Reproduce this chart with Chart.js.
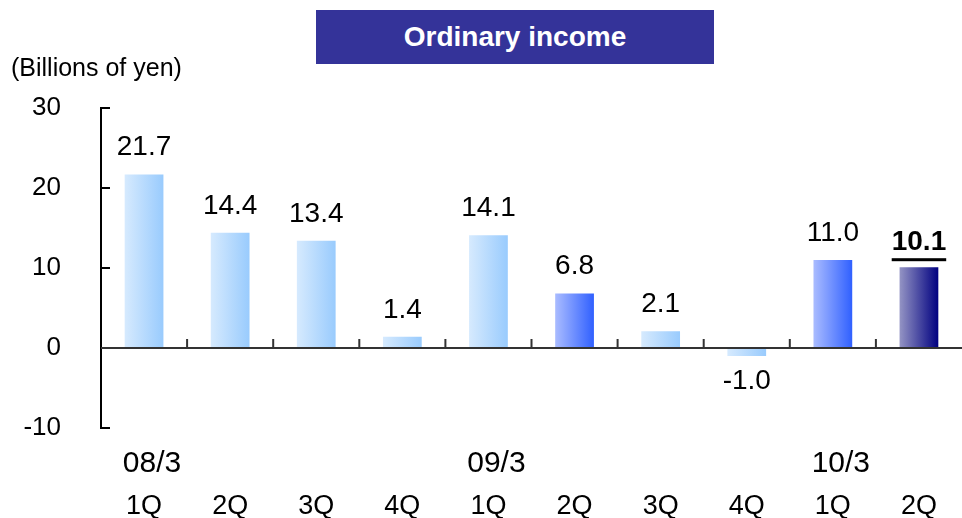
<!DOCTYPE html>
<html>
<head>
<meta charset="utf-8">
<script src="https://cdn.jsdelivr.net/npm/chart.js@4"></script>
<style>
html, body { margin: 0; padding: 0; background: #fff; }
#wrap { position: relative; width: 962px; height: 518px; }
#title { position: absolute; left: 316px; top: 10px; width: 398px; height: 54px; background: #343399; color: #fff;
  font: bold 28px "Liberation Sans", Arial, sans-serif; display: flex; align-items: center; justify-content: center; }
#unit { position: absolute; left: 11px; top: 53px; font: 25px "Liberation Sans", Arial, sans-serif; color: #000; }
canvas { position: absolute; left: 0; top: 0; }
</style>
</head>
<body>
<div id="wrap">
  <canvas id="chart" width="962" height="518"></canvas>
  <div id="title">Ordinary income</div>
  <div id="unit">(Billions of yen)</div>
</div>
<script>
// Data
const years = ["08/3", "", "", "", "09/3", "", "", "", "10/3", ""];
const quarters = ["1Q", "2Q", "3Q", "4Q", "1Q", "2Q", "3Q", "4Q", "1Q", "2Q"];
const values = [21.7, 14.4, 13.4, 1.4, 14.1, 6.8, 2.1, -1.0, 11.0, 10.1];
const valueLabels = ["21.7", "14.4", "13.4", "1.4", "14.1", "6.8", "2.1", "-1.0", "11.0", "10.1"];
const barStyles = ["light", "light", "light", "light", "light", "blue", "light", "light", "blue", "dark"];
const yMin = -10, yMax = 30, yStep = 10;

const FONT = '"Liberation Sans", Arial, sans-serif';

// gradient stops per style (left -> right)
const gradients = {
  light: ["#d6eafe", "#99cbfd"],
  blue: ["#aabcff", "#3060ff"],
  dark: ["#9494c4", "#000080"]
};

function barFill(context) {
  const chart = context.chart;
  const x = chart.scales.x;
  const i = context.dataIndex;
  const stops = gradients[barStyles[i]] || gradients.light;
  if (!x || i === undefined) return stops[1];
  const cx = x.getPixelForValue(i);
  const w = (x.width / values.length) * 0.45;
  if (!isFinite(cx) || !isFinite(w) || w <= 0) return stops[1];
  const g = chart.ctx.createLinearGradient(cx - w / 2, 0, cx + w / 2, 0);
  g.addColorStop(0, stops[0]);
  g.addColorStop(1, stops[1]);
  return g;
}

// axes: y axis with inner ticks, zero line with category ticks
const axisLines = {
  id: "axisLines",
  afterDatasetsDraw(chart) {
    const { ctx, chartArea: a, scales: { x, y } } = chart;
    const y0 = y.getPixelForValue(0);
    ctx.save();
    ctx.strokeStyle = "#000";
    ctx.lineWidth = 2;
    ctx.beginPath();
    ctx.moveTo(a.left, a.top - 1);
    ctx.lineTo(a.left, a.bottom + 1);
    y.ticks.forEach(t => {
      const py = y.getPixelForValue(t.value);
      ctx.moveTo(a.left - 1, py);
      ctx.lineTo(a.left + 9, py);
    });
    ctx.stroke();

    ctx.strokeStyle = "#333";
    ctx.beginPath();
    ctx.moveTo(a.left, y0);
    ctx.lineTo(a.right, y0);
    for (let i = 1; i < values.length; i++) {
      const px = (x.getPixelForValue(i - 1) + x.getPixelForValue(i)) / 2;
      ctx.moveTo(px, y0);
      ctx.lineTo(px, y0 - 9);
    }
    ctx.stroke();
    ctx.restore();
  }
};

// value labels above / below bars
const valueText = {
  id: "valueText",
  afterDatasetsDraw(chart) {
    const { ctx } = chart;
    const meta = chart.getDatasetMeta(0);
    ctx.save();
    ctx.fillStyle = "#000";
    ctx.textAlign = "center";
    ctx.textBaseline = "middle";
    meta.data.forEach((bar, i) => {
      const last = i === values.length - 1;
      ctx.font = (last ? "bold " : "") + "28px " + FONT;
      let ty;
      if (values[i] >= 0) ty = bar.y - (last ? 25 : 27);
      else ty = bar.y + 25;
      ctx.fillText(valueLabels[i], bar.x, ty);
      if (last) {
        const w = ctx.measureText(valueLabels[i]).width;
        ctx.fillRect(bar.x - w / 2, ty + 16, w, 3);
      }
    });
    ctx.restore();
  }
};

new Chart(document.getElementById("chart"), {
  type: "bar",
  data: {
    labels: quarters,
    datasets: [{
      data: values,
      backgroundColor: barFill,
      borderWidth: 0,
      categoryPercentage: 1,
      barPercentage: 0.45
    }]
  },
  options: {
    responsive: false,
    animation: false,
    layout: { padding: { top: 108, right: 0, left: 0, bottom: 0 } },
    plugins: { legend: { display: false }, tooltip: { enabled: false } },
    scales: {
      x: {
        offset: true,
        weight: 1,
        grid: { display: false },
        border: { display: false },
        ticks: {
          autoSkip: false,
          maxRotation: 0,
          color: "#000",
          padding: 2,
          font: { family: FONT, size: 27, lineHeight: 1.2 }
        },
        afterFit(scale) { scale.height = 38; }
      },
      years: {
        type: "category",
        labels: years,
        position: "bottom",
        offset: true,
        weight: 0,
        grid: { display: false },
        border: { display: false },
        ticks: {
          autoSkip: false,
          maxRotation: 0,
          color: "#000",
          padding: 10,
          labelOffset: 8,
          font: { family: FONT, size: 30, lineHeight: 1.2 }
        },
        afterFit(scale) { scale.height = 52; }
      },
      y: {
        min: yMin,
        max: yMax,
        grid: { display: false },
        border: { display: false },
        ticks: {
          stepSize: yStep,
          color: "#000",
          padding: 32,
          font: { family: FONT, size: 26 }
        },
        afterFit(scale) { scale.width = 101; }
      }
    }
  },
  plugins: [axisLines, valueText]
});
</script>
</body>
</html>
